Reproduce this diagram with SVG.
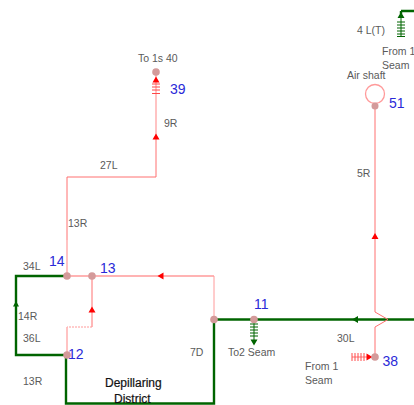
<svg xmlns="http://www.w3.org/2000/svg" width="414" height="405" viewBox="0 0 414 405">
<style>
text{font-family:"Liberation Sans",Arial,sans-serif}
.l{font-size:10.500px;fill:#5a5a5a}
.n{font-size:14px;fill:#2a2ad8}
.g{fill:none;stroke:#006400;stroke-width:2.400}
.r{fill:none;stroke:#ff9a9a;stroke-width:1.300}
.s{fill:none;stroke:#ff7070;stroke-width:1}
.p{fill:none;stroke:#ffb4b4;stroke-width:1.600}
.f{fill:none;stroke:#ff9a9a;stroke-width:1}
.rt{fill:none;stroke:#ff4848;stroke-width:1}
.gt{fill:none;stroke:#006400;stroke-width:1}
.d{fill:#d49a9a}
.ar{fill:#ff0000}
.ag{fill:#006400}
</style>
<rect width="414" height="405" fill="#fff"/>
<g id="connectors">
<path class="g" d="M66 276H16V355H66"/>
<path class="g" d="M66 355V403.500H214V320"/>
<path class="g" d="M214 319.500H414"/>
<path class="g" d="M401 11H414M401 11V14"/>
<path class="p" d="M67 276V240"/>
<path class="s" d="M67 240V177H156V134"/>
<path class="p" d="M156 134V72"/>
<path class="r" d="M67 276H214"/>
<path class="f" d="M214 276V320"/>
<path class="s" d="M92 276V327"/>
<path class="f" d="M92 327H67" stroke-dasharray="2 1"/>
<path class="p" d="M67 327V355"/>
<path class="s" d="M375 104V312L388 319.500L375 327V356"/>
<path class="s" d="M352 357H375"/>
<circle class="r" cx="375" cy="94" r="9.500"/>
<path class="rt" d="M152 84h8M152 87h8M152 90h8M152 93.500h8"/>
<path class="rt" d="M352 353v8M355 353v8M358 353v8M361 353v8M364 353v8"/>
<path class="gt" d="M254 320V340"/>
<path class="gt" d="M250 324h8M250 327h8M250 330h8M250 333h8M250 336h8"/>
<path class="gt" d="M401 14V36M397 22h8M397 25h8M397 28h8M397 31h8M397 34h8M397 36.500h8"/>
<path class="ar" d="M156 76.500l-3.500 6h7zM156 133.500l-3.500 6h7zM375 233l-3.500 6h7zM92 306.500l-3.500 6h7zM157.500 276l6-3.500v7zM372.500 357l-6-3.500v7z"/>
<path class="ag" d="M16 301l-3 5.500h6zM352 319.500l6-3.500v7zM254 345.500l-3.500-6h7zM401 12l-3.500 6h7z"/>
</g>
<g id="node-39"><circle class="d" cx="156" cy="72" r="3.800"/><text class="l" x="138" y="62">To 1s 40</text><text class="n" x="170" y="94">39</text></g>
<g id="node-51"><circle class="d" cx="375" cy="106" r="3.500"/><text class="l" x="347" y="79">Air shaft</text><text class="n" x="389" y="108">51</text></g>
<g id="node-14"><circle class="d" cx="67" cy="276" r="3.800"/><text class="n" x="49" y="266">14</text></g>
<g id="node-13"><circle class="d" cx="92" cy="276" r="3.800"/><text class="n" x="100" y="273">13</text></g>
<g id="node-12"><circle class="d" cx="67" cy="355" r="3.800"/><text class="n" x="68" y="359">12</text></g>
<g id="node-7D"><circle class="d" cx="214" cy="319.500" r="3.800"/></g>
<g id="node-11"><circle class="d" cx="254" cy="319.500" r="3.800"/><text class="n" x="254" y="309">11</text></g>
<g id="node-38"><circle class="d" cx="375" cy="357" r="3.800"/><text class="n" x="382.500" y="366">38</text></g>
<g id="labels">
<text class="l" x="357" y="34">4 L(T)</text>
<text class="l" x="382" y="55">From 1</text>
<text class="l" x="382" y="69">Seam</text>
<text class="l" x="357" y="177">5R</text>
<text class="l" x="164" y="127">9R</text>
<text class="l" x="100" y="169">27L</text>
<text class="l" x="68" y="227">13R</text>
<text class="l" x="23" y="270">34L</text>
<text class="l" x="18" y="320">14R</text>
<text class="l" x="23" y="342">36L</text>
<text class="l" x="23" y="385">13R</text>
<text class="l" x="190" y="356">7D</text>
<text class="l" x="228" y="356">To2 Seam</text>
<text class="l" x="337" y="342">30L</text>
<text class="l" x="305" y="370">From 1</text>
<text class="l" x="305" y="384">Seam</text>
<text x="105" y="387" font-size="12" fill="#111" stroke="#111" stroke-width="0.200">Depillaring</text>
<text x="114" y="403" font-size="12" fill="#111" stroke="#111" stroke-width="0.200">District</text>
</g>
</svg>
